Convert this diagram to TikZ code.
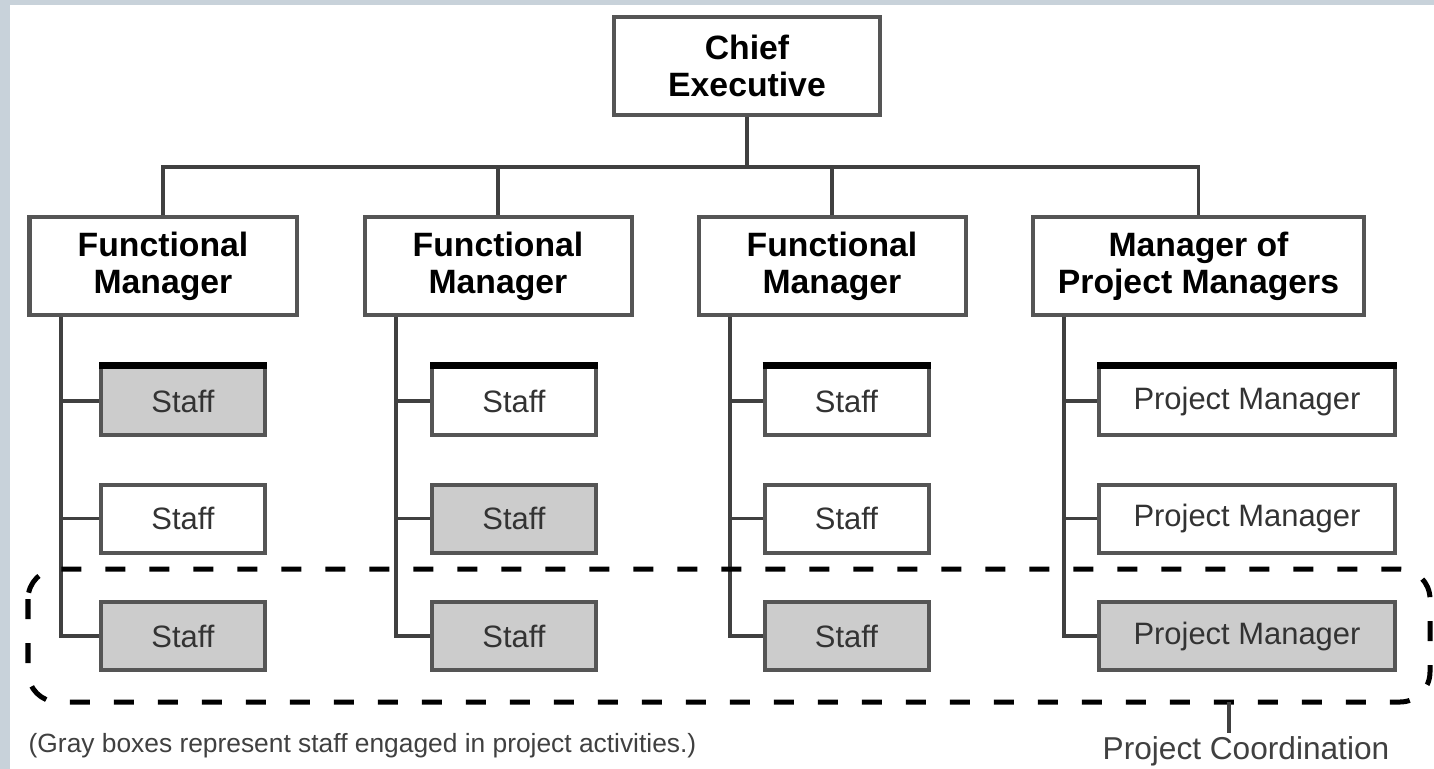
\documentclass[tikz,border=0pt]{standalone}
\usepackage{fontspec}
\setmainfont{Liberation Sans}
\usepackage{tikz}
\usetikzlibrary{calc}
\definecolor{band}{HTML}{C8D2DA}
\definecolor{boxgray}{HTML}{555555}
\definecolor{staffgray}{HTML}{CCCCCC}
\tikzset{
	head/.style={draw=boxgray,line width=.08cm,fill=white,align=center,inner sep=0pt,minimum height=1.96cm,font=\fontsize{19.2}{21}\selectfont\bfseries},
	staffbox/.style={draw=boxgray,line width=.08cm,fill=white,inner sep=0pt,minimum width=3.28cm,minimum height=1.36cm,text=black!80,font=\fontsize{17.6}{20}\selectfont},
	pmbox/.style={staffbox,minimum width=5.92cm},
	busy/.style={fill=staffgray},
	link/.style={draw=black!75,line width=.07cm},
	topbar/.style={line width=.14cm,black}
}

\begin{document}
\begin{tikzpicture}
					\useasboundingbox (0,0) rectangle (28.68,-15.38);
					\fill[band] (0,0) rectangle (28.68,-15.38);
					\fill[white] (.2,-.1) rectangle (28.68,-15.38);
					% managers
					\node[head,minimum width=5.32cm] (chief) at (14.94,-1.32) {Chief\\Executive};
					\node[head,minimum width=5.34cm] (fm1) at (3.26,-5.32) {Functional\\Manager};
					\node[head,minimum width=5.34cm] (fm2) at (9.96,-5.32) {Functional\\Manager};
					\node[head,minimum width=5.34cm] (fm3) at (16.64,-5.32) {Functional\\Manager};
					\node[head,minimum width=6.62cm] (mpm) at (23.97,-5.32) {Manager of\\Project Managers};
					\draw[link] (chief.south) -- ++(0,-1) coordinate (bus);
					\draw[link] (fm1.north) |- (bus) -| (mpm.north);
					\draw[link] (fm2.north) -- (fm2.north |- bus);
					\draw[link] (fm3.north) -- (fm3.north |- bus);
					% staff
					\node[staffbox,busy] (s11) at (3.66,-8.02) {Staff};
					\node[staffbox] (s12) at (3.66,-10.37) {Staff};
					\node[staffbox,busy] (s13) at (3.66,-12.72) {Staff};
					\node[staffbox] (s21) at (10.28,-8.02) {Staff};
					\node[staffbox,busy] (s22) at (10.28,-10.37) {Staff};
					\node[staffbox,busy] (s23) at (10.28,-12.72) {Staff};
					\node[staffbox] (s31) at (16.93,-8.02) {Staff};
					\node[staffbox] (s32) at (16.93,-10.37) {Staff};
					\node[staffbox,busy] (s33) at (16.93,-12.72) {Staff};
					\node[pmbox] (p1) at (24.94,-8.02) {Project Manager};
					\node[pmbox] (p2) at (24.94,-10.37) {Project Manager};
					\node[pmbox,busy] (p3) at (24.94,-12.72) {Project Manager};
					\draw[topbar] (s11.north west) -- (s11.north east)
					(s21.north west) -- (s21.north east)
					(s31.north west) -- (s31.north east)
					(p1.north west) -- (p1.north east);
					\draw[link] (fm1.south west) ++(.67,0) coordinate (sp1) |- (s13.west) (sp1 |- s11.west) -- (s11.west) (sp1 |- s12.west) -- (s12.west);
					\draw[link] (fm2.south west) ++(.67,0) coordinate (sp2) |- (s23.west) (sp2 |- s21.west) -- (s21.west) (sp2 |- s22.west) -- (s22.west);
					\draw[link] (fm3.south west) ++(.67,0) coordinate (sp3) |- (s33.west) (sp3 |- s31.west) -- (s31.west) (sp3 |- s32.west) -- (s32.west);
					\draw[link] (mpm.south west) ++(.66,0) coordinate (sp4) |- (p3.west) (sp4 |- p1.west) -- (p1.west) (sp4 |- p2.west) -- (p2.west);
					% project coordination
					\draw[line width=.1cm,rounded corners=.6cm,dash pattern=on .4cm off .48cm] (.56,-11.38) rectangle (28.6,-14.04);
					\coordinate (tick) at (24.58,-14.04);
					\draw[link] (tick) -- ++(0,-.62);
					\node[text=black!75,font=\fontsize{18}{20}\selectfont] (coord) at (24.92,-15.03) {Project Coordination};
					\node[text=black!75,font=\fontsize{15}{18}\selectfont] (note) at (7.25,-14.92) {(Gray boxes represent staff engaged in project activities.)};
				\end{tikzpicture}
\end{document}
